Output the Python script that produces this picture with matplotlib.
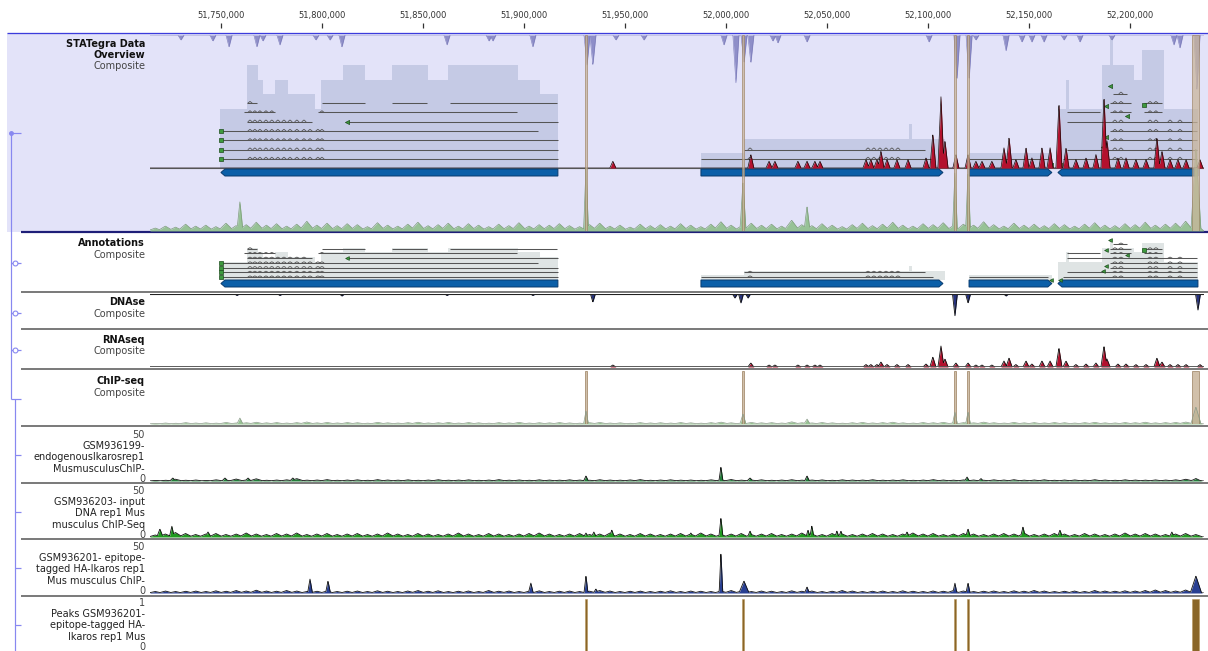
import numpy as np
import matplotlib
matplotlib.use("Agg")
import matplotlib.pyplot as plt
from matplotlib.ticker import FixedLocator, FuncFormatter
from matplotlib.collections import LineCollection

plt.rcParams['font.family'] = ['DejaVu Sans']

# ---------------- data (genomic positions in kb) ----------------
ruler_ticks_kb = [51750, 51800, 51850, 51900, 51950, 52000, 52050, 52100, 52150, 52200]

# overview DNAse (depth, px-like units)
ov_dnase_pos = [51730.2, 51746.0, 51754.0, 51767.8, 51770.8, 51779.2, 51797.0, 51804.0, 51809.9,
                51861.9, 51882.7, 51884.6, 51904.4, 51931.2, 51934.1, 51945.5, 51959.4, 51999.0,
                52004.9, 52008.9, 52012.3, 52023.2, 52025.7, 52040.1, 52100.5, 52114.3, 52120.3,
                52123.7, 52138.6, 52146.5, 52151.4, 52157.4, 52167.3, 52175.2, 52191.0, 52221.7,
                52224.7, 52233.1]
ov_dnase_depth = [5, 6, 12, 12, 6, 10, 5, 5, 12, 10, 6, 6, 12, 30, 30, 5, 5, 10, 48, 28,
                  28, 6, 8, 7, 7, 45, 45, 5, 16, 7, 7, 7, 5, 7, 5, 10, 13, 55]

# DNAse track
dnase_pos = [51757.9, 51779.2, 51809.9, 51861.9, 51904.4, 51934.1, 52004.4, 52007.4, 52010.9,
             52113.3, 52119.8, 52138.6, 52233.6]
dnase_depth = [1.5, 1.5, 2, 1.5, 1.5, 8, 4, 9, 4, 22, 9, 2, 16]

# RNAseq track
rna_pos = [51944.0, 52012.3, 52021.3, 52024.2, 52035.6, 52040.1, 52044.0, 52046.5,
           52069.3, 52071.7, 52074.7, 52076.7, 52079.7, 52084.6, 52090.1,
           52099.0, 52102.4, 52106.4, 52108.4,
           52113.8, 52119.8, 52123.7, 52126.7, 52131.6,
           52137.6, 52140.1, 52143.5, 52148.5, 52151.4, 52156.4, 52160.4,
           52164.8, 52168.3, 52173.2, 52178.2, 52183.1,
           52187.1, 52188.6, 52194.0, 52198.0, 52202.9, 52207.9,
           52213.3, 52215.8, 52219.8, 52223.7, 52227.7, 52234.6]
rna_h = [2, 4, 2, 2, 2, 2, 2, 2,
         2.5, 2.5, 2.5, 5, 2.5, 2.5, 2.5,
         3, 10, 21, 8,
         4, 4, 2, 2, 2,
         6, 9, 2.5, 6, 3, 6, 6,
         19, 6, 2.5, 3, 4,
         21, 8, 3, 3, 2.5, 2.5,
         9, 5, 2.5, 2.5, 2.5, 2.5]

# ChIP-seq composite
chip_pos = [51759.4, 51930.7, 52008.4, 52040.1, 52113.3, 52119.8, 52232.6]
chip_h = [6, 13, 10, 5, 12, 12, 17]
chip_hw = [1.5, 1.2, 1.5, 1.5, 1.2, 1.2, 2.5]
chip_bg = [0.6, 1.0, 0.8, 1.4, 1.0, 1.2, 0.9, 1.6, 1.1, 1.3,
           1.8, 1.2, 1.5, 1.0, 1.4, 2.0, 1.2, 1.6, 1.1, 1.5,
           1.3, 0.9, 1.7, 1.2, 1.0, 1.4, 1.8, 1.1, 1.3, 1.6,
           1.0, 1.5, 1.2, 0.9, 1.4, 1.1, 1.7, 1.0, 1.3, 1.2,
           1.5, 1.1, 0.9, 1.3, 1.6, 1.0, 1.2, 0.8, 1.4, 1.1,
           1.3, 1.0, 1.5, 1.2, 0.9, 1.4, 1.9, 1.2, 1.0, 1.6,
           1.2, 1.4, 1.0, 2.2, 1.3, 1.1, 1.5, 1.2, 0.9, 1.3,
           1.6, 1.1, 1.4, 1.8, 1.2, 1.0, 1.5, 1.3, 1.7, 1.1,
           1.4, 1.2, 1.9, 1.3, 1.0, 1.6, 1.2, 1.4, 1.1, 1.5,
           1.3, 1.0, 1.4, 1.7, 1.2, 1.1, 1.5, 1.3, 1.8, 1.2,
           1.4, 1.6, 2.0, 1.5]

# GSM936199
gsm199_pos = [51726.2, 51752.0, 51763.4, 51785.6, 51930.7, 51997.5, 52011.9, 52040.1, 52119.3, 52126.2, 52232.6]
gsm199_h = [3, 3, 3, 3, 5, 14, 3, 5, 4, 2.5, 2.5]
gsm199_hw = [1.5, 1.5, 1.5, 1.5, 1.2, 1.0, 1.5, 1.2, 1.2, 1.2, 2.5]
gsm199_bg = [0.6, 0.8, 1.8, 0.8, 1.0, 0.6, 1.2, 0.8, 2.0, 1.0,
             2.2, 0.8, 1.0, 1.2, 2.4, 0.9, 1.0, 1.4, 0.8, 1.0,
             1.2, 0.8, 1.4, 1.0, 0.9, 1.2, 0.8, 1.0, 1.3, 0.9,
             1.0, 1.2, 0.8, 1.0, 1.4, 0.9, 1.1, 0.8, 1.2, 1.0,
             0.9, 1.2, 1.0, 0.8, 1.3, 1.0, 0.9, 1.1, 1.4, 0.8,
             1.0, 1.2, 0.9, 1.0, 0.8, 1.2, 1.0, 1.5, 0.9, 1.0,
             1.2, 0.8, 1.0, 1.3, 0.9, 1.0, 1.1, 0.8, 1.2, 1.0,
             1.0, 1.3, 0.9, 1.0, 1.2, 0.8, 1.0, 1.4, 1.0, 0.9,
             1.1, 1.0, 0.8, 1.2, 1.0, 1.3, 0.9, 1.0, 1.2, 0.8,
             1.0, 1.1, 0.9, 1.3, 1.0, 0.8, 1.2, 1.0, 0.9, 1.1,
             1.0, 1.2, 1.8, 1.5]

# GSM936203
gsm203_pos = [51719.8, 51725.7, 51743.6, 51930.7, 51934.6, 51943.5, 51982.6, 51997.5, 52011.9,
              52040.6, 52042.5, 52054.9, 52056.9, 52089.6, 52119.8, 52147.0, 52165.3, 52220.7]
gsm203_h = [8, 11, 5, 4, 5, 7, 4, 19, 6, 7, 11, 6, 6, 5, 8, 10, 7, 5]
gsm203_hw = [1.5, 1.2, 1.5, 1.2, 1.2, 1.2, 1.2, 1.0, 1.2, 1.0, 1.0, 1.0, 1.0, 1.2, 1.2, 1.2, 1.2, 1.2]
gsm203_bg = [2.0, 3.0, 4.5, 3.5, 2.5, 3.0, 3.5, 2.5, 3.0, 4.0,
             3.0, 2.5, 3.5, 3.0, 4.0, 2.5, 3.0, 3.5, 2.5, 3.0,
             3.5, 2.5, 3.0, 4.0, 3.0, 2.5, 3.5, 3.0, 2.5, 3.0,
             4.0, 3.0, 2.5, 3.5, 3.0, 2.5, 3.0, 3.5, 4.0, 3.0,
             2.5, 3.0, 3.5, 2.5, 3.0, 4.0, 3.0, 2.5, 3.5, 3.0,
             2.5, 3.0, 3.5, 3.0, 4.0, 3.0, 2.5, 3.0, 3.5, 2.5,
             3.0, 3.5, 2.5, 3.0, 4.0, 3.0, 2.5, 3.5, 3.0, 2.5,
             3.0, 3.5, 3.0, 2.5, 3.0, 4.0, 3.0, 3.5, 2.5, 3.0,
             3.5, 3.0, 2.5, 3.0, 3.5, 3.0, 4.0, 2.5, 3.0, 3.5,
             3.0, 2.5, 3.5, 3.0, 2.5, 3.0, 4.0, 3.0, 3.5, 3.0,
             2.5, 3.0, 3.5, 2.5]

# GSM936201
gsm201_pos = [51794.1, 51803.0, 51903.4, 51930.7, 51935.6, 51997.5, 52008.9, 52040.1, 52113.3, 52119.8, 52232.6]
gsm201_h = [14, 12, 10, 17, 4, 40, 12, 6, 10, 10, 17]
gsm201_hw = [1.2, 1.2, 1.2, 1.0, 1.2, 0.9, 2.5, 1.2, 1.0, 1.0, 2.8]
gsm201_bg = [1.5, 2.0, 1.5, 1.8, 2.0, 1.5, 2.2, 1.8, 2.5, 2.0,
             2.8, 2.0, 1.8, 2.5, 2.0, 1.5, 1.8, 2.0, 1.5, 1.8,
             2.0, 1.5, 2.2, 1.8, 1.5, 2.0, 2.5, 1.8, 2.2, 1.5,
             1.8, 2.0, 1.5, 2.5, 1.8, 2.0, 1.5, 1.8, 2.2, 1.5,
             1.8, 2.0, 1.5, 1.8, 2.5, 2.0, 1.5, 1.8, 2.0, 1.5,
             1.8, 2.2, 1.5, 2.0, 1.8, 1.5, 2.0, 2.5, 1.8, 1.5,
             2.0, 1.8, 1.5, 2.2, 1.8, 2.0, 1.5, 1.8, 2.5, 2.0,
             1.5, 1.8, 2.0, 1.5, 2.2, 1.8, 1.5, 2.0, 1.8, 2.5,
             2.0, 1.5, 1.8, 2.0, 1.5, 2.2, 1.8, 2.5, 2.0, 1.5,
             1.8, 2.0, 1.5, 2.5, 2.0, 1.8, 2.2, 2.0, 2.5, 3.0,
             2.5, 2.0, 3.0, 2.5]

# Peaks GSM936201
peak_pos = [51930.7, 52008.4, 52113.3, 52119.8, 52232.4]
peak_width = [1.1, 1.1, 1.1, 1.1, 3.6]
peak_score = [1, 1, 1, 1, 1]

# gene models
gene_start = [51750.0, 51987.6, 52120.3, 52164.3]
gene_end = [51916.8, 52107.4, 52161.3, 52233.6]
gene_strand = ['-', '+', '+', '-']

g1_cov_edges = [51749.5, 51762.9, 51768.3, 51770.8, 51776.7, 51783.2, 51796.5, 51799.5, 51810.4,
                51821.3, 51834.6, 51852.5, 51862.4, 51897.0, 51907.9, 51916.8]
g1_cov_levels = [4, 7, 6, 5, 6, 5, 4, 6, 7, 6, 7, 6, 7, 6, 5]
g2_cov_edges = [51987.6, 52008.9, 52090.6, 52092.0, 52108.4]
g2_cov_levels = [1, 2, 3, 2]
g3_cov_edges = [52120.3, 52161.3]
g3_cov_levels = [1]
g4_cov_edges = [52164.3, 52168.3, 52169.8, 52186.1, 52190.1, 52191.6, 52202.0, 52205.9, 52216.8, 52233.6]
g4_cov_levels = [4, 6, 4, 7, 9, 7, 6, 8, 4]

tx_row = [6, 6, 6, 6, 5, 5, 4, 4, 3, 2, 1, 0,
          1, 0,
          0,
          7, 6, 6, 5, 5, 5, 4, 3, 2, 1, 0]
tx_start = [51762.9, 51800.0, 51834.6, 51863.4, 51761.4, 51798.0, 51762.9, 51812.4, 51750.0, 51750.0, 51750.0, 51750.0,
            52008.9, 51987.6,
            52120.3,
            52191.6, 52190.1, 52206.9, 52168.8, 52190.1, 52206.9, 52168.8, 52190.1, 52190.1, 52168.8, 52166.8]
tx_end = [51767.8, 51821.3, 51852.0, 51916.3, 51776.7, 51896.5, 51795.0, 51916.8, 51906.9, 51916.8, 51916.8, 51916.8,
          52098.5, 52102.4,
          52159.4,
          52198.5, 52200.5, 52215.8, 52185.1, 52200.5, 52215.8, 52233.1, 52233.1, 52233.1, 52233.1, 52233.1]

# short introns (drawn as small chevrons on the transcripts that span them)
intron_kb = [51764.4, 51766.8, 51769.3, 51772.3, 51775.2, 51778.2, 51781.2, 51784.2, 51787.6,
             51791.1, 51794.1, 51798.0, 51800.0,
             52011.9, 52070.3, 52073.2, 52076.2, 52079.2, 52082.1, 52085.1,
             52192.5, 52195.5, 52209.9, 52212.8, 52219.8, 52224.7]

mk_x = [51750.0, 51750.0, 51750.0, 51750.0, 51812.4, 52190.1, 52188.1, 52198.5, 52206.9, 52188.1, 52186.6, 52161.0, 52165.3]
mk_row = [0, 1, 2, 3, 4, 7.8, 5.7, 4.6, 5.8, 2.4, 1.3, -0.6, -0.6]
mk_shape = ['s', 's', 's', 's', '<', '<', '<', '<', 's', '<', '<', '<', '<']

# ---------------- figure ----------------
W, H = 1208, 651
PX = 0.72
fig = plt.figure(figsize=(W / 100, H / 100), dpi=100)
fig.patch.set_facecolor('white')


def rect(x0, y0, x1, y1):
    return [x0 / W, 1 - y1 / H, (x1 - x0) / W, (y1 - y0) / H]


XL, XR = 150, 1204
XLIM = (51714.9, 52236.6)
xs = np.linspace(XLIM[0], XLIM[1], 4000)
bg_grid = np.arange(51717.5, 52233.0, 5.0)


def data_ax(y0, y1, ylim, z=3):
    ax = fig.add_axes(rect(XL, y0, XR, y1), zorder=z)
    ax.set_xlim(*XLIM)
    ax.set_ylim(*ylim)
    ax.axis('off')
    return ax


def profile(pos, h, hw):
    y = np.zeros_like(xs)
    hw = np.broadcast_to(np.asarray(hw, dtype=float), (len(pos),))
    for c, v, w in zip(pos, h, hw):
        y = np.maximum(y, v * np.clip(1 - np.abs(xs - c) / w, 0, None))
    return y


def signal(ax, y, fc, ec, lw=0.6, alpha=1.0):
    ax.fill_between(xs, 0, y, color=fc, lw=0, alpha=alpha)
    ax.plot(xs, y, color=ec, lw=lw)


cov_sets = [(g1_cov_edges, g1_cov_levels), (g2_cov_edges, g2_cov_levels),
            (g3_cov_edges, g3_cov_levels), (g4_cov_edges, g4_cov_levels)]


def draw_genes(ax, bar_top, bar_bot, row0, rowstep, cov_base, cov_step, cov_color, ms, chev_h):
    for edges, levels in cov_sets:
        e = np.asarray(edges)
        ax.bar(e[:-1], -cov_step * np.asarray(levels), width=np.diff(e), bottom=cov_base,
               align='edge', color=cov_color, lw=0, zorder=1)
    rows = row0 - rowstep * np.asarray(tx_row, dtype=float)
    ax.hlines(rows, tx_start, tx_end, color='#555555', lw=0.75, zorder=2)
    segs = []
    for ry, s, e in zip(rows, tx_start, tx_end):
        for m in intron_kb:
            if s + 1.0 < m < e - 1.0:
                segs.append([(m - 1.1, ry), (m, ry - chev_h), (m + 1.1, ry)])
    ax.add_collection(LineCollection(segs, colors='#555555', linewidths=0.6, zorder=2))
    a = 2.0
    mid = (bar_top + bar_bot) / 2
    for s, e, st in zip(gene_start, gene_end, gene_strand):
        if st == '-':
            px = [s, s + a, e, e, s + a]
            py = [mid, bar_top, bar_top, bar_bot, bar_bot]
        else:
            px = [s, e - a, e, e - a, s]
            py = [bar_top, bar_top, mid, bar_bot, bar_bot]
        ax.fill(px, py, facecolor='#0b5fa8', edgecolor='#083a6e', lw=0.7, zorder=3)
    for x, r, m in zip(mk_x, mk_row, mk_shape):
        ax.scatter([x], [row0 - rowstep * r], marker=m, s=ms, c='#3d9a3d',
                   edgecolors='#1d4d1d', linewidths=0.5, zorder=4)


# overview background
bgax = fig.add_axes(rect(7, 33, 1208, 232), zorder=0)
bgax.set_facecolor('#e3e3f9')
bgax.set_xticks([])
bgax.set_yticks([])
for sp in bgax.spines.values():
    sp.set_visible(False)

# decorations (frame lines, tree)
deco = fig.add_axes([0, 0, 1, 1], zorder=1)
deco.set_xlim(0, W)
deco.set_ylim(H, 0)
deco.axis('off')
deco.hlines(33, 7, 1208, color='#3c3cdc', lw=1.3 * PX)
deco.hlines(232, 21, 1208, color='#1e1e78', lw=2.2 * PX)
for yy in [292, 329, 369, 426, 483, 539, 596]:
    deco.hlines(yy, 21, 1208, color='#5c5c5c', lw=1.6 * PX)
tree_c = '#8888f0'
deco.vlines(11, 133, 399, color=tree_c, lw=1.2 * PX)
deco.hlines(133, 11, 21, color=tree_c, lw=1.2 * PX)
deco.plot([11], [133], 'o', ms=2.5, color=tree_c)
for yy in [263, 313, 350]:
    deco.hlines(yy, 11, 21, color=tree_c, lw=1.2 * PX)
    deco.plot([15], [yy], 'o', ms=3.5, mfc='white', mec=tree_c, mew=0.8)
deco.hlines(399, 11, 21, color=tree_c, lw=1.2 * PX)
deco.vlines(15, 399, 651, color=tree_c, lw=1.2 * PX)
for yy in [455, 512, 568, 625]:
    deco.hlines(yy, 15, 21, color=tree_c, lw=1.2 * PX)

# ruler
ru = fig.add_axes(rect(XL, 23, XR, 33), zorder=5)
ru.set_xlim(*XLIM)
ru.set_ylim(0, 1)
ru.patch.set_alpha(0)
for sp in ru.spines.values():
    sp.set_visible(False)
ru.yaxis.set_visible(False)
ru.xaxis.set_major_locator(FixedLocator(ruler_ticks_kb))
ru.xaxis.set_major_formatter(FuncFormatter(lambda v, p: f"{int(round(v * 1000)):,}"))
ru.tick_params(axis='x', top=True, bottom=False, labeltop=True, labelbottom=False,
               direction='in', length=5 * PX, width=0.9, pad=2.5, labelsize=6, colors='#333333')

# ---- overview composite ----
ov_gene = data_ax(33, 232, (232, 33), z=2)
draw_genes(ov_gene, 169, 176, 159, 9.3, 168, 14.7, '#c5cae5', 9, 1.8)
ov_gene.axhline(168, color='#555555', lw=0.8)

ov_chip = data_ax(35, 231, (0, 40), z=3)
ychip = np.maximum(profile(chip_pos, chip_h, chip_hw), profile(bg_grid, chip_bg, 4.0))
signal(ov_chip, ychip, '#8fbf8b', '#7d9c7a', lw=0.5, alpha=0.9)

ov_rna = data_ax(40, 168, (0, 128 / 3.4), z=4)
yrna = profile(rna_pos, rna_h, 1.5)
signal(ov_rna, yrna, '#b3112e', '#1a0a0a', lw=0.5)

ov_dn = data_ax(35, 231, (196, 0), z=4)
ydn = profile(ov_dnase_pos, ov_dnase_depth, 1.5)
signal(ov_dn, ydn, '#8a8ac6', '#7a7ab8', lw=0.4, alpha=0.95)

ov_tan = data_ax(35, 231, (0, 1), z=5)
ov_tan.bar(peak_pos, [1] * len(peak_pos), width=peak_width, color='#c9b59b', alpha=0.75,
           edgecolor='#9c8262', lw=0.6)

# ---- annotations ----
an = data_ax(233, 291, (291, 233), z=2)
draw_genes(an, 280, 287, 277, 4.7, 280, 4.6, '#dfe4e4', 7, 1.1)

# ---- DNAse ----
dn = data_ax(294, 329, (35, 0), z=3)
signal(dn, profile(dnase_pos, dnase_depth, 1.2), '#27337f', '#111111', lw=0.6)
dn.axhline(0, color='#222222', lw=0.8)

# ---- RNAseq ----
rn = data_ax(331, 367, (0, 36), z=3)
signal(rn, yrna, '#b3112e', '#111111', lw=0.6)
rn.axhline(0, color='#555555', lw=1.2)

# ---- ChIP-seq ----
ch = data_ax(371, 424, (0, 53), z=3)
signal(ch, ychip, '#97c293', '#8a9a88', lw=0.5)
ch.bar(peak_pos, [53] * len(peak_pos), width=peak_width, color='#c9b59b', alpha=0.85,
       edgecolor='#9c8262', lw=0.6)

# ---- GSM tracks ----
g199 = data_ax(431, 481, (0, 50), z=3)
signal(g199, np.maximum(profile(gsm199_pos, gsm199_h, gsm199_hw), profile(bg_grid, gsm199_bg, 3.5)),
       '#237f3a', '#111111', lw=0.6)
g203 = data_ax(487, 537, (0, 50), z=3)
signal(g203, np.maximum(profile(gsm203_pos, gsm203_h, gsm203_hw), profile(bg_grid, gsm203_bg, 3.5)),
       '#1f9a1f', '#111111', lw=0.6)
g201 = data_ax(543, 593, (0, 50), z=3)
signal(g201, np.maximum(profile(gsm201_pos, gsm201_h, gsm201_hw), profile(bg_grid, gsm201_bg, 3.5)),
       '#283f92', '#111111', lw=0.6)

# ---- Peaks ----
pk = data_ax(599, 651, (0, 1), z=3)
pk.bar(peak_pos, peak_score, width=peak_width, color='#8a6628', edgecolor='#b8975c', lw=0.4)

# ---- labels ----
def lab(y, s, weight='normal', color='#222222'):
    fig.text(145 / W, 1 - y / H, s, ha='right', va='center', fontsize=7, fontweight=weight, color=color)


lab(44, 'STATegra Data', 'bold', '#111111')
lab(55, 'Overview', 'bold', '#111111')
lab(66, 'Composite', color='#444444')
for y0, name in [(243, 'Annotations'), (302, 'DNAse'), (340, 'RNAseq'), (381, 'ChIP-seq')]:
    lab(y0, name, 'bold', '#111111')
    lab(y0 + 11.5, 'Composite', color='#444444')

track_text = [
    (435, ['GSM936199-', 'endogenousIkarosrep1', 'MusmusculusChIP-'], '50'),
    (491, ['GSM936203- input', 'DNA rep1 Mus', 'musculus ChIP-Seq'], '50'),
    (547, ['GSM936201- epitope-', 'tagged HA-Ikaros rep1', 'Mus musculus ChIP-'], '50'),
    (603, ['Peaks GSM936201-', 'epitope-tagged HA-', 'Ikaros rep1 Mus'], '1'),
]
for y0, lines, top in track_text:
    lab(y0, top, color='#444444')
    for i, s in enumerate(lines):
        lab(y0 + 11.2 * (i + 1), s)
    lab(y0 + 44, '0', color='#444444')

fig.savefig('out.png', dpi=100)
